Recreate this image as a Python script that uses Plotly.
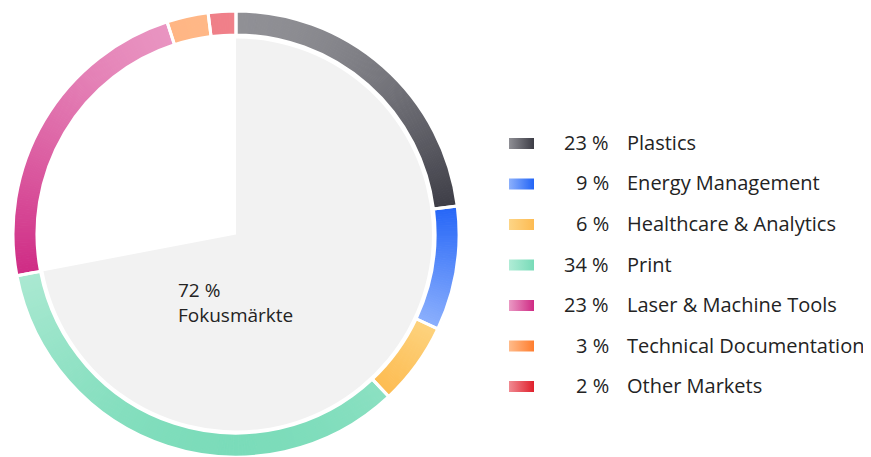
import numpy as np
import plotly.graph_objects as go

# ---------------- data ----------------
markets = ["Plastics", "Energy Management", "Healthcare & Analytics", "Print",
           "Laser & Machine Tools", "Technical Documentation", "Other Markets"]
shares = [23, 9, 6, 34, 23, 3, 2]
# ring gradient colours (top of segment, bottom of segment)
ring_top = ["#95959a", "#2465f7", "#fdd582", "#abe9d2", "#ea99c4", "#ffbb8b", "#f18891"]
ring_bot = ["#3d3d46", "#8fb2fd", "#fdb94c", "#78dbb8", "#cf2a84", "#ffb27f", "#ee7680"]
# legend swatch gradient colours (left, right)
sw_left = ["#8f8f95", "#8cb0fc", "#fdd586", "#b0ecd6", "#ea99c4", "#ffbb8a", "#f08a92"]
sw_right = ["#3c3c45", "#2264f6", "#fdbb52", "#78dbb8", "#cf2a84", "#ff7d2e", "#e0202c"]
focus_share = 72
focus_label = "Fokusmärkte"

OFF = 8                      # default page body margin
W, H = 871 - OFF, 457 - OFF  # figure size fitting the window
CX, CY = 236 - OFF, 234.5 - OFF   # centre in figure px (from top)
R_OUT, R_IN, R_PIE = 223.5, 199.5, 196
FONT = "Open Sans"
TXT = "#232323"


def P(x, y):
    """page px -> paper coords"""
    return (x - OFF) / W, 1 - (y - OFF) / H


def hex2rgb(h):
    h = h.lstrip("#")
    return np.array([int(h[i:i + 2], 16) for i in (0, 2, 4)], dtype=float)


def mix(c1, c2, t):
    c = hex2rgb(c1) * (1 - t) + hex2rgb(c2) * t
    return "rgb(%d,%d,%d)" % tuple(np.round(c).astype(int))


# --------- gradient sub-slices of the ring (computed from shares) ---------
SUB = 6  # sub-slices per percent
sub_vals, sub_cols = [], []
start = 0.0
for v, ct, cb in zip(shares, ring_top, ring_bot):
    a0, a1 = start / 100 * 2 * np.pi, (start + v) / 100 * 2 * np.pi
    ang = np.linspace(a0, a1, 200)
    ys = np.concatenate([-np.cos(ang) * R_OUT, -np.cos(ang) * R_IN])
    ymin, ymax = ys.min(), ys.max()
    n = max(int(v * SUB), 1)
    for k in range(n):
        am = a0 + (k + 0.5) / n * (a1 - a0)
        y = -np.cos(am) * (R_OUT + R_IN) / 2
        t = (y - ymin) / (ymax - ymin) if ymax > ymin else 0.5
        sub_vals.append(v / n)
        sub_cols.append(mix(ct, cb, min(max(t, 0), 1)))
    start += v

ring_dom_x = [(CX - R_OUT) / W, (CX + R_OUT) / W]
ring_dom_y = [max((H - CY - R_OUT) / H, 0), min((H - CY + R_OUT) / H, 1)]
hole = R_IN / R_OUT

fig = go.Figure()

fig.add_trace(go.Pie(
    values=sub_vals, sort=False, direction="clockwise", rotation=0,
    hole=hole, textinfo="none", hoverinfo="skip", showlegend=False,
    marker=dict(colors=sub_cols, line=dict(color=sub_cols, width=1)),
    domain=dict(x=ring_dom_x, y=ring_dom_y),
))
# real segments: white separators
fig.add_trace(go.Pie(
    labels=markets, values=shares, sort=False, direction="clockwise", rotation=0,
    hole=hole, textinfo="none", showlegend=False,
    marker=dict(colors=["rgba(0,0,0,0)"] * len(shares), line=dict(color="white", width=3)),
    domain=dict(x=ring_dom_x, y=ring_dom_y),
))
# inner focus-market pie
fig.add_trace(go.Pie(
    labels=[focus_label, "Andere"], values=[focus_share, 100 - focus_share],
    sort=False, direction="clockwise", rotation=0, textinfo="none", showlegend=False,
    marker=dict(colors=["#f2f2f2", "rgba(255,255,255,0)"], line=dict(width=0)),
    domain=dict(x=[(CX - R_PIE) / W, (CX + R_PIE) / W],
                y=[(H - CY - R_PIE) / H, (H - CY + R_PIE) / H]),
))

ax, ay = P(176, 302)
fig.add_annotation(x=ax, y=ay, xref="paper", yref="paper",
                   text=f"{focus_share} %<br>{focus_label}", showarrow=False,
                   xanchor="left", yanchor="middle", align="left",
                   font=dict(family=FONT, size=19, color=TXT))

# ---------------- legend ----------------
LEG_Y0, LEG_DY = 142.5, 40.5
for i, (m, s) in enumerate(zip(markets, shares)):
    yc = LEG_Y0 + i * LEG_DY
    sy = yc + 1
    fig.add_trace(go.Scatter(
        x=[509, 534, 534, 509, 509], y=[sy - 5.5, sy - 5.5, sy + 5.5, sy + 5.5, sy - 5.5],
        mode="lines", line=dict(width=0), fill="toself",
        fillgradient=dict(type="horizontal", colorscale=[[0, sw_left[i]], [1, sw_right[i]]]),
        hoverinfo="skip", showlegend=False, xaxis="x", yaxis="y"))
    px_, py_ = P(611, yc)
    fig.add_annotation(x=px_, y=py_, xref="paper", yref="paper",
                       text=f"{s} %", showarrow=False, xanchor="right", yanchor="middle",
                       font=dict(family=FONT, size=20, color=TXT))
    lx, ly = P(625, yc)
    fig.add_annotation(x=lx, y=ly, xref="paper", yref="paper",
                       text=m, showarrow=False, xanchor="left", yanchor="middle",
                       font=dict(family=FONT, size=20, color=TXT))

fig.update_layout(
    width=W, height=H, margin=dict(l=0, r=0, t=0, b=0),
    paper_bgcolor="white", plot_bgcolor="rgba(0,0,0,0)",
    xaxis=dict(range=[OFF, OFF + W], visible=False, domain=[0, 1], fixedrange=True),
    yaxis=dict(range=[OFF + H, OFF], visible=False, domain=[0, 1], fixedrange=True),
    showlegend=False,
)
fig.write_html("out.html")
